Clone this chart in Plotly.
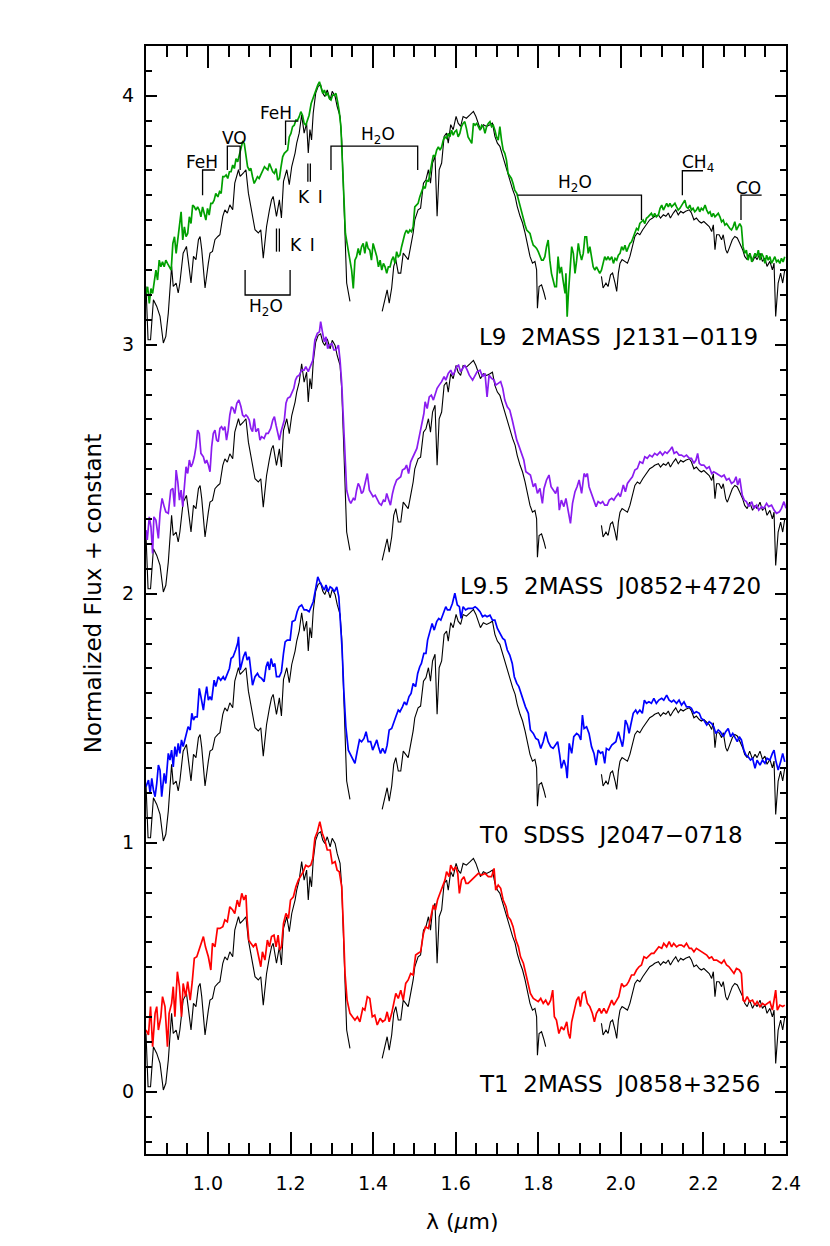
import plotly.graph_objects as go

# ---- black comparison standard (same template drawn under every object) ----
std_lam_1 = [0.850,0.855,0.861,0.868,0.876,0.884,0.892,0.898,0.904,0.912,0.916,0.923,0.928,0.932,0.940,0.948,0.952,0.959,0.965,0.971,
             0.977,0.981,0.985,0.993,1.001,1.005,1.011,1.017,1.024,1.029,1.036,1.041,1.047,1.053,1.060,1.065,1.074,1.078,1.086,1.092,
             1.098,1.106,1.114,1.122,1.128,1.134,1.142,1.149,1.154,1.158,1.162,1.166,1.173,1.178,1.183,1.191,1.197,1.203,1.211,1.215,
             1.221,1.227,1.233,1.239,1.243,1.247,1.251,1.255,1.261,1.267,1.273,1.278,1.283,1.289,1.296,1.301,1.308,1.313,1.320,1.324,
             1.328,1.332,1.336,1.344]
std_flux_1 = [0.234,0.020,0.020,0.181,0.154,0.114,0.007,0.034,0.127,0.315,0.234,0.248,0.208,0.248,0.368,0.395,0.342,0.248,0.355,0.342,
              0.422,0.435,0.382,0.228,0.328,0.368,0.375,0.422,0.435,0.442,0.516,0.542,0.529,0.562,0.542,0.649,0.703,0.676,0.690,0.703,
              0.609,0.542,0.462,0.449,0.462,0.348,0.475,0.542,0.582,0.596,0.556,0.516,0.582,0.509,0.656,0.703,0.643,0.716,0.770,0.810,
              0.850,0.924,0.850,0.890,0.770,0.864,0.823,0.931,1.011,1.038,1.044,1.011,0.997,1.024,0.984,1.018,0.997,0.957,0.917,0.823,
              0.636,0.435,0.248,0.174]
std_lam_2 = [1.422,1.429,1.434,1.439,1.445,1.450,1.455,1.461,1.467,1.473,1.479,1.485,1.491,1.497,1.501,1.509,1.515,1.522,1.528,1.534,
             1.539,1.544,1.550,1.555,1.560,1.566,1.572,1.578,1.582,1.588,1.594,1.601,1.606,1.612,1.618,1.626,1.635,1.643,1.649,1.655,
             1.660,1.667,1.675,1.683,1.689,1.695,1.701,1.707,1.714,1.719,1.725,1.731,1.738,1.744,1.749,1.756,1.762,1.768,1.774,1.780,
             1.786,1.792,1.796,1.798,1.802,1.808,1.814,1.818]
std_flux_2 = [0.134,0.181,0.221,0.167,0.228,0.315,0.342,0.288,0.288,0.368,0.355,0.342,0.395,0.449,0.502,0.542,0.549,0.649,0.663,0.703,
              0.649,0.730,0.757,0.516,0.703,0.730,0.837,0.850,0.810,0.884,0.864,0.917,0.890,0.877,0.917,0.910,0.924,0.937,0.917,0.884,
              0.864,0.884,0.877,0.884,0.890,0.837,0.810,0.797,0.757,0.730,0.690,0.663,0.623,0.596,0.556,0.516,0.489,0.449,0.395,0.355,
              0.328,0.335,0.301,0.147,0.234,0.241,0.208,0.181]
std_lam_3 = [1.953,1.957,1.964,1.969,1.975,1.980,1.986,1.990,1.994,1.998,2.003,2.010,2.016,2.022,2.028,2.034,2.040,2.046,2.053,2.058,
             2.064,2.070,2.077,2.082,2.091,2.096,2.103,2.109,2.115,2.120,2.127,2.133,2.139,2.145,2.151,2.157,2.166,2.171,2.177,2.183,
             2.190,2.195,2.201,2.208,2.214,2.220,2.224,2.228,2.232,2.238,2.244,2.248,2.254,2.258,2.264,2.270,2.276,2.282,2.288,2.295,
             2.300,2.306,2.312,2.319,2.325,2.330,2.337,2.343,2.349,2.354,2.361,2.367,2.371,2.375,2.381,2.387,2.392,2.397]
std_flux_3 = [0.275,0.228,0.248,0.234,0.281,0.288,0.248,0.214,0.288,0.328,0.342,0.335,0.328,0.355,0.395,0.435,0.449,0.442,0.462,0.475,
              0.489,0.502,0.509,0.516,0.522,0.509,0.522,0.516,0.529,0.509,0.529,0.542,0.522,0.536,0.529,0.536,0.542,0.529,0.502,0.509,
              0.495,0.489,0.495,0.482,0.475,0.455,0.482,0.382,0.442,0.442,0.422,0.442,0.382,0.368,0.395,0.422,0.435,0.429,0.408,0.382,
              0.355,0.342,0.368,0.335,0.355,0.342,0.368,0.335,0.348,0.315,0.335,0.301,0.328,0.114,0.248,0.288,0.248,0.301]

# ---- T1 2MASS J0858+3256 (red) ----
t1_lam = [0.850,0.856,0.861,0.866,0.872,0.876,0.880,0.886,0.890,0.896,0.902,0.906,0.912,0.916,0.920,0.926,0.931,0.936,0.940,0.946,
          0.951,0.957,0.962,0.967,0.973,0.977,0.982,0.989,0.994,1.001,1.007,1.011,1.017,1.023,1.029,1.036,1.041,1.047,1.053,1.060,
          1.065,1.071,1.076,1.082,1.087,1.092,1.095,1.099,1.104,1.110,1.116,1.122,1.128,1.132,1.138,1.144,1.149,1.154,1.160,1.165,
          1.170,1.174,1.178,1.183,1.189,1.195,1.200,1.207,1.213,1.219,1.224,1.231,1.237,1.243,1.249,1.254,1.259,1.265,1.271,1.277,
          1.283,1.289,1.296,1.301,1.308,1.313,1.318,1.324,1.328,1.332,1.337,1.344,1.350,1.356,1.362,1.368,1.375,1.380,1.386,1.392,
          1.398,1.404,1.410,1.417,1.423,1.429,1.434,1.439,1.445,1.450,1.455,1.461,1.467,1.473,1.479,1.485,1.491,1.497,1.503,1.509,
          1.515,1.522,1.527,1.534,1.539,1.546,1.551,1.556,1.562,1.568,1.574,1.578,1.584,1.588,1.594,1.600,1.605,1.609,1.614,1.620,
          1.625,1.630,
          1.639,1.647,1.655,1.663,1.671,1.679,1.687,1.693,1.697,1.703,1.709,1.715,1.722,1.727,1.733,1.739,1.746,1.752,1.757,1.764,
          1.770,1.776,1.781,1.788,1.794,1.800,1.806,1.812,1.818,1.824,1.830,1.835,1.839,1.844,1.850,1.856,1.862,1.869,1.873,1.877,
          1.881,1.886,1.893,1.898,1.902,1.907,1.913,1.919,1.925,1.931,1.936,1.941,1.948,1.953,1.959,1.965,1.971,1.978,1.983,1.990,
          1.995,2.002,2.007,2.014,2.019,2.026,2.032,2.038,2.044,2.050,2.056,2.062,2.069,2.074,2.080,2.086,2.092,2.099,2.104,2.111,
          2.117,2.123,2.128,2.135,2.141,2.147,2.153,2.159,2.166,2.171,2.177,2.183,2.190,2.195,2.201,2.208,2.214,2.220,2.225,2.232,
          2.238,2.244,2.250,2.256,2.262,2.268,2.274,2.280,2.287,2.292,2.296,2.300,2.306,2.312,2.319,2.325,2.330,2.337,2.343,2.349,
          2.354,2.361,2.367,2.371,2.375,2.379,2.385,2.392,2.397]
t1_flux = [0.248,0.228,0.342,0.181,0.315,0.342,0.248,0.301,0.382,0.342,0.181,0.315,0.355,0.422,0.301,0.482,0.422,0.301,0.435,0.382,
           0.442,0.368,0.442,0.536,0.542,0.562,0.596,0.623,0.582,0.542,0.489,0.596,0.582,0.656,0.656,0.663,0.690,0.683,0.743,0.730,
           0.716,0.770,0.743,0.797,0.770,0.790,0.690,0.609,0.596,0.582,0.596,0.542,0.502,0.562,0.529,0.609,0.582,0.623,0.629,0.582,
           0.629,0.569,0.582,0.676,0.716,0.696,0.770,0.783,0.823,0.850,0.864,0.884,0.910,0.904,0.910,0.937,1.018,1.044,1.085,1.038,
           1.011,0.971,0.971,0.917,0.924,0.890,0.884,0.823,0.663,0.475,0.368,0.315,0.301,0.288,0.301,0.281,0.335,0.328,0.382,0.375,
           0.301,0.308,0.268,0.295,0.281,0.288,0.321,0.281,0.315,0.355,0.395,0.375,0.408,0.368,0.435,0.449,0.475,0.469,0.549,0.556,
           0.562,0.636,0.663,0.656,0.690,0.750,0.730,0.770,0.797,0.823,0.850,0.884,0.864,0.910,0.890,0.904,0.877,0.797,0.850,0.864,
           0.837,0.837,
           0.850,0.864,0.877,0.870,0.877,0.864,0.864,0.897,0.810,0.830,0.817,0.770,0.743,0.703,0.690,0.663,0.609,0.582,0.542,0.516,
           0.475,0.435,0.395,0.375,0.368,0.362,0.375,0.355,0.368,0.348,0.368,0.408,0.301,0.288,0.234,0.261,0.248,0.281,0.234,0.214,
           0.281,0.315,0.368,0.382,0.342,0.395,0.402,0.355,0.342,0.315,0.281,0.315,0.335,0.315,0.335,0.315,0.342,0.368,0.348,0.368,
           0.382,0.435,0.422,0.429,0.442,0.469,0.469,0.489,0.502,0.509,0.542,0.536,0.549,0.556,0.556,0.569,0.582,0.576,0.596,0.582,
           0.603,0.582,0.596,0.582,0.589,0.589,0.582,0.596,0.576,0.576,0.562,0.576,0.569,0.562,0.556,0.549,0.536,0.542,0.529,0.529,
           0.522,0.516,0.529,0.509,0.502,0.489,0.475,0.495,0.489,0.475,0.368,0.362,0.382,0.362,0.368,0.348,0.362,0.342,0.355,0.348,
           0.355,0.362,0.328,0.368,0.408,0.328,0.348,0.342,0.348]

# ---- T0 SDSS J2047-0718 (blue) ----
t0_lam = [0.850,0.856,0.860,0.864,0.868,0.872,0.876,0.880,0.884,0.888,0.894,0.898,0.904,0.908,0.912,0.916,0.920,0.924,0.928,0.932,
          0.936,0.940,0.944,0.948,0.952,0.957,0.961,0.965,0.969,0.974,0.979,0.983,0.989,0.993,0.997,1.001,1.005,1.009,1.015,1.019,
          1.025,1.031,1.037,1.041,1.047,1.052,1.056,1.061,1.067,1.072,1.074,1.078,1.082,1.086,1.091,1.095,1.100,1.104,1.108,1.114,
          1.120,1.124,1.130,1.136,1.141,1.145,1.149,1.153,1.158,1.162,1.166,1.173,1.178,1.183,1.187,1.192,1.199,1.204,1.211,1.216,
          1.221,1.227,1.233,1.239,1.245,1.250,1.255,1.261,1.266,1.271,1.277,1.282,1.286,1.291,1.296,1.301,1.306,1.312,1.317,1.321,
          1.325,1.329,1.334,1.340,1.346,1.352,1.356,1.362,1.367,1.372,1.378,1.383,1.388,1.394,1.399,1.404,1.409,1.413,1.418,1.423,
          1.429,1.434,1.439,1.445,1.450,1.455,1.461,1.465,1.471,1.476,1.481,1.487,1.492,1.497,1.503,1.508,1.513,1.517,1.523,1.528,
          1.532,1.538,1.543,1.548,1.554,1.559,1.564,1.570,1.576,1.580,1.586,1.592,1.598,1.604,1.609,1.613,1.618,1.624,1.630,
          1.641,1.647,1.652,1.659,1.665,1.671,1.676,1.683,1.689,1.695,1.701,1.707,1.714,1.719,1.725,1.731,1.737,1.742,1.748,1.753,
          1.758,1.764,1.769,1.776,1.781,1.788,1.794,1.800,1.806,1.812,1.818,1.824,1.830,1.836,1.842,1.847,1.852,1.856,1.862,1.867,
          1.870,1.875,1.881,1.886,1.893,1.898,1.903,1.907,1.911,1.917,1.923,1.929,1.935,1.940,1.945,1.951,1.956,1.961,1.965,1.971,
          1.978,1.983,1.988,1.994,1.999,2.004,2.007,2.011,2.016,2.020,2.024,2.030,2.036,2.040,2.046,2.052,2.057,2.062,2.068,2.074,
          2.080,2.086,2.092,2.099,2.104,2.111,2.117,2.123,2.128,2.135,2.141,2.147,2.153,2.159,2.166,2.171,2.177,2.183,2.190,2.195,
          2.201,2.208,2.214,2.220,2.225,2.230,2.236,2.241,2.248,2.254,2.260,2.266,2.271,2.276,2.282,2.287,2.292,2.298,2.303,2.308,
          2.314,2.319,2.325,2.330,2.337,2.343,2.349,2.354,2.361,2.367,2.371,2.375,2.381,2.387,2.392,2.397]
t0_flux = [0.225,0.252,0.198,0.259,0.212,0.185,0.238,0.312,0.292,0.185,0.279,0.238,0.359,0.332,0.372,0.305,0.386,0.346,0.399,0.359,
           0.413,0.386,0.413,0.439,0.466,0.453,0.520,0.493,0.506,0.506,0.620,0.587,0.533,0.587,0.627,0.573,0.587,0.573,0.653,0.627,
           0.667,0.653,0.667,0.653,0.680,0.700,0.740,0.747,0.774,0.801,0.827,0.694,0.720,0.747,0.767,0.734,0.747,0.674,0.633,0.667,
           0.680,0.667,0.660,0.647,0.707,0.727,0.694,0.740,0.707,0.720,0.667,0.667,0.687,0.761,0.807,0.814,0.814,0.888,0.894,0.928,
           0.948,0.955,0.935,0.935,0.928,0.948,0.968,1.022,1.068,1.048,1.028,1.015,1.035,1.008,1.028,1.022,1.008,1.028,0.988,0.894,
           0.774,0.613,0.466,0.372,0.352,0.332,0.319,0.372,0.413,0.406,0.419,0.446,0.406,0.406,0.372,0.392,0.413,0.386,0.359,0.379,
           0.359,0.392,0.453,0.459,0.479,0.506,0.533,0.526,0.546,0.566,0.553,0.587,0.600,0.640,0.627,0.680,0.707,0.720,0.761,0.761,
           0.814,0.854,0.881,0.854,0.888,0.901,0.894,0.921,0.948,0.935,0.935,0.961,1.002,0.955,0.948,0.901,0.948,0.935,0.941,
           0.941,0.948,0.941,0.928,0.908,0.914,0.908,0.914,0.894,0.894,0.861,0.841,0.821,0.814,0.774,0.754,0.720,0.667,0.640,0.627,
           0.600,0.566,0.546,0.520,0.453,0.439,0.419,0.413,0.379,0.406,0.446,0.406,0.386,0.379,0.392,0.406,0.352,0.299,0.332,0.305,
           0.259,0.399,0.359,0.426,0.439,0.433,0.413,0.513,0.459,0.466,0.439,0.386,0.359,0.312,0.372,0.359,0.366,0.319,0.379,0.372,
           0.392,0.399,0.406,0.446,0.413,0.386,0.419,0.493,0.473,0.439,0.473,0.520,0.533,0.520,0.533,0.520,0.573,0.560,0.566,0.560,
           0.580,0.560,0.573,0.580,0.573,0.593,0.573,0.566,0.573,0.560,0.573,0.553,0.566,0.546,0.546,0.540,0.520,0.526,0.520,0.499,
           0.493,0.473,0.486,0.479,0.466,0.439,0.453,0.446,0.426,0.446,0.459,0.426,0.439,0.426,0.406,0.426,0.413,0.372,0.352,0.346,
           0.332,0.339,0.299,0.332,0.312,0.332,0.319,0.339,0.332,0.359,0.372,0.332,0.292,0.325,0.359,0.325]

# ---- L9.5 2MASS J0852+4720 (purple) ----
l95_lam = [0.850,0.853,0.858,0.862,0.866,0.869,0.874,0.880,0.884,0.889,0.894,0.898,0.904,0.910,0.915,0.919,0.923,0.927,0.931,0.935,
           0.939,0.943,0.947,0.951,0.955,0.959,0.963,0.967,0.971,0.975,0.979,0.983,0.989,0.993,0.997,1.001,1.005,1.009,1.013,1.017,
           1.021,1.025,1.029,1.033,1.037,1.041,1.045,1.049,1.053,1.057,1.061,1.065,1.070,1.075,1.080,1.084,1.088,1.092,1.096,1.100,
           1.104,1.108,1.112,1.116,1.122,1.126,1.130,1.136,1.141,1.146,1.152,1.157,1.161,1.165,1.169,1.173,1.177,1.181,1.185,1.189,
           1.193,1.199,1.203,1.208,1.212,1.216,1.221,1.227,1.233,1.237,1.243,1.249,1.254,1.259,1.265,1.270,1.273,1.278,1.282,1.286,
           1.290,1.294,1.300,1.305,1.310,1.316,1.320,1.324,1.328,1.332,1.336,1.342,1.346,1.352,1.356,1.360,1.364,1.368,1.372,1.376,
           1.381,1.386,1.391,1.395,1.400,1.405,1.410,1.415,1.420,1.425,1.429,1.433,1.438,1.442,1.447,1.451,1.457,1.462,1.467,1.471,
           1.477,1.481,1.486,1.491,1.496,1.501,1.506,1.510,1.514,1.518,1.523,1.526,1.531,1.536,1.541,1.546,1.551,1.555,1.560,1.566,
           1.572,1.576,1.582,1.588,1.593,1.598,1.602,1.607,1.612,1.617,1.622,1.628,1.633,
           1.641,1.647,1.652,1.659,1.665,1.671,1.676,1.681,1.687,1.693,1.697,1.703,1.709,1.714,1.719,1.725,1.731,1.737,1.742,1.748,
           1.754,1.760,1.765,1.770,1.776,1.781,1.788,1.793,1.798,1.804,1.810,1.814,1.820,1.826,1.831,1.836,1.842,1.847,1.851,1.856,
           1.862,1.867,1.873,1.878,1.883,1.889,1.894,1.899,1.905,1.911,1.915,1.919,1.923,1.929,1.935,1.940,1.945,1.951,1.956,1.961,
           1.967,1.972,1.978,1.983,1.988,1.994,1.999,2.006,2.011,2.016,2.022,2.028,2.034,2.040,2.046,2.053,2.058,2.064,2.070,2.076,
           2.082,2.088,2.095,2.101,2.107,2.112,2.119,2.124,2.129,2.135,2.141,2.147,2.153,2.159,2.166,2.171,2.177,2.182,2.186,2.190,
           2.195,2.201,2.208,2.214,2.220,2.225,2.232,2.238,2.244,2.250,2.256,2.262,2.268,2.274,2.279,2.283,2.288,2.294,2.299,2.304,
           2.310,2.317,2.322,2.329,2.334,2.341,2.346,2.353,2.358,2.365,2.371,2.377,2.384,2.389,2.395,2.400]
l95_flux = [0.256,0.216,0.309,0.269,0.162,0.309,0.296,0.222,0.323,0.383,0.350,0.329,0.323,0.416,0.423,0.350,0.497,0.450,0.376,0.416,
            0.350,0.443,0.510,0.483,0.537,0.510,0.524,0.550,0.590,0.657,0.644,0.564,0.550,0.524,0.537,0.517,0.490,0.590,0.644,0.657,
            0.617,0.611,0.664,0.671,0.657,0.671,0.617,0.657,0.718,0.751,0.744,0.724,0.765,0.778,0.751,0.718,0.711,0.718,0.711,0.698,
            0.664,0.651,0.704,0.651,0.664,0.617,0.631,0.624,0.644,0.644,0.664,0.698,0.711,0.677,0.651,0.617,0.651,0.677,0.698,0.765,
            0.785,0.791,0.805,0.825,0.858,0.872,0.878,0.898,0.898,0.912,0.892,0.918,0.938,1.019,1.046,1.052,1.093,1.046,1.012,1.032,
            0.985,0.999,1.005,0.979,0.979,0.999,0.939,0.845,0.711,0.550,0.416,0.376,0.363,0.383,0.376,0.416,0.443,0.430,0.403,0.410,
            0.443,0.483,0.416,0.403,0.390,0.396,0.376,0.363,0.356,0.376,0.370,0.403,0.376,0.356,0.403,0.430,0.457,0.463,0.470,0.497,
            0.503,0.517,0.483,0.530,0.550,0.570,0.584,0.617,0.651,0.677,0.724,0.771,0.744,0.791,0.798,0.778,0.811,0.825,0.838,0.852,
            0.872,0.858,0.885,0.898,0.878,0.892,0.912,0.918,0.892,0.905,0.918,0.898,0.878,
            0.858,0.878,0.892,0.898,0.872,0.885,0.791,0.878,0.865,0.858,0.838,0.845,0.852,0.825,0.778,0.751,0.738,0.698,0.657,0.617,
            0.590,0.564,0.537,0.490,0.483,0.477,0.430,0.443,0.403,0.423,0.363,0.423,0.457,0.477,0.430,0.416,0.403,0.430,0.336,0.376,
            0.350,0.383,0.336,0.283,0.363,0.410,0.430,0.457,0.403,0.483,0.470,0.483,0.430,0.403,0.376,0.350,0.370,0.363,0.370,0.356,
            0.356,0.376,0.383,0.376,0.390,0.403,0.390,0.437,0.410,0.443,0.457,0.470,0.497,0.503,0.530,0.524,0.550,0.544,0.557,0.550,
            0.564,0.557,0.570,0.557,0.570,0.564,0.577,0.590,0.564,0.570,0.557,0.557,0.550,0.557,0.544,0.544,0.524,0.537,0.564,0.524,
            0.517,0.517,0.503,0.510,0.483,0.490,0.483,0.477,0.470,0.477,0.457,0.463,0.443,0.450,0.470,0.437,0.463,0.396,0.376,0.370,
            0.350,0.370,0.343,0.356,0.336,0.350,0.343,0.363,0.350,0.356,0.336,0.323,0.329,0.343,0.370,0.343]

# ---- L9 2MASS J2131-0119 (green) ----
l9_lam = [0.850,0.854,0.858,0.862,0.866,0.870,0.874,0.878,0.882,0.886,0.890,0.894,0.898,0.902,0.906,0.911,0.915,0.919,0.923,0.927,
          0.931,0.935,0.939,0.943,0.947,0.951,0.955,0.959,0.963,0.967,0.971,0.975,0.979,0.983,0.987,0.991,0.995,0.999,1.003,1.007,
          1.011,1.015,1.019,1.024,1.028,1.032,1.036,1.040,1.044,1.048,1.052,1.056,1.060,1.064,1.068,1.072,1.076,1.080,1.084,1.088,
          1.092,1.096,1.100,1.104,1.108,1.112,1.116,1.120,1.124,1.128,1.132,1.137,1.141,1.145,1.149,1.153,1.157,1.161,1.165,1.169,
          1.173,1.177,1.181,1.185,1.189,1.193,1.197,1.201,1.205,1.209,1.213,1.217,1.221,1.225,1.229,1.233,1.237,1.241,1.245,1.250,
          1.254,1.258,1.262,1.266,1.270,1.274,1.278,1.282,1.286,1.290,1.294,1.298,1.302,1.306,1.310,1.314,1.318,1.322,1.325,1.329,
          1.333,1.337,1.342,1.348,1.352,1.356,1.360,1.364,1.368,1.372,1.376,1.380,1.384,1.388,1.392,1.396,1.400,1.404,1.409,1.413,
          1.417,1.421,1.425,1.429,1.433,1.437,1.441,1.445,1.449,1.453,1.457,1.461,1.465,1.469,1.473,1.477,1.481,1.485,1.489,1.493,
          1.497,1.501,1.505,1.509,1.513,1.517,1.522,1.526,1.530,1.534,1.538,1.542,1.546,1.550,1.554,1.558,1.562,1.566,1.570,1.574,
          1.578,1.582,1.586,1.590,1.594,1.598,1.602,1.606,1.610,1.614,1.618,1.622,1.626,1.630,
          1.639,1.643,1.647,1.651,1.655,1.659,1.663,1.667,1.671,1.675,1.679,1.683,1.687,1.691,1.695,1.699,1.703,1.707,1.711,1.715,
          1.719,1.723,1.727,1.731,1.735,1.739,1.743,1.748,1.752,1.756,1.760,1.764,1.768,1.772,1.776,1.780,1.784,1.788,1.792,1.796,
          1.800,1.804,1.808,1.812,1.816,1.820,1.824,1.828,1.832,1.836,1.840,1.844,1.848,1.852,1.856,1.860,1.865,1.867,1.870,1.873,
          1.877,1.881,1.885,1.889,1.893,1.897,1.901,1.905,1.909,1.913,1.917,1.921,1.925,1.929,1.933,1.937,1.941,1.945,1.949,1.953,
          1.957,1.961,1.965,1.969,1.973,1.978,1.982,1.986,1.990,1.994,1.998,2.002,2.006,2.010,2.014,2.018,2.022,2.026,2.030,2.034,
          2.038,2.042,2.046,2.050,2.054,2.058,2.062,2.066,2.070,2.074,2.078,2.082,2.086,2.091,2.095,2.099,2.103,2.107,2.111,2.115,
          2.119,2.123,2.127,2.131,2.135,2.139,2.143,2.147,2.151,2.155,2.159,2.163,2.167,2.171,2.175,2.179,2.183,2.187,2.191,2.195,
          2.199,2.204,2.208,2.212,2.216,2.220,2.224,2.228,2.232,2.236,2.240,2.244,2.248,2.252,2.256,2.260,2.264,2.268,2.272,2.276,
          2.280,2.284,2.288,2.292,2.296,2.300,2.304,2.308,2.313,2.317,2.321,2.325,2.329,2.333,2.337,2.341,2.345,2.349,2.353,2.357,
          2.361,2.365,2.369,2.373,2.377,2.381,2.385,2.389,2.393,2.397]
l9_flux = [0.206,0.233,0.166,0.226,0.206,0.246,0.300,0.260,0.340,0.313,0.333,0.313,0.340,0.327,0.313,0.300,0.407,0.434,0.367,0.421,
           0.461,0.534,0.421,0.474,0.434,0.447,0.514,0.487,0.561,0.554,0.541,0.554,0.541,0.514,0.554,0.528,0.501,0.548,0.521,0.568,
           0.568,0.581,0.608,0.594,0.615,0.608,0.675,0.675,0.682,0.668,0.695,0.695,0.722,0.708,0.748,0.735,0.762,0.789,0.815,0.809,
           0.762,0.715,0.702,0.708,0.675,0.648,0.661,0.675,0.668,0.682,0.695,0.715,0.708,0.702,0.728,0.708,0.695,0.688,0.708,0.661,
           0.668,0.715,0.755,0.769,0.775,0.782,0.835,0.849,0.876,0.882,0.902,0.902,0.916,0.936,0.922,0.889,0.882,0.902,0.922,0.969,
           0.989,1.010,1.030,1.043,1.056,1.036,1.010,1.023,1.003,1.010,0.989,0.983,1.003,1.003,1.010,0.976,0.936,0.876,0.742,0.581,
           0.447,0.407,0.354,0.300,0.226,0.340,0.354,0.387,0.360,0.394,0.407,0.367,0.414,0.387,0.380,0.340,0.407,0.387,0.354,0.313,
           0.340,0.300,0.327,0.313,0.287,0.313,0.313,0.340,0.354,0.327,0.374,0.354,0.360,0.394,0.421,0.447,0.461,0.447,0.461,0.454,
           0.474,0.554,0.561,0.568,0.594,0.615,0.635,0.628,0.661,0.655,0.702,0.728,0.762,0.755,0.782,0.795,0.782,0.795,0.822,0.835,
           0.829,0.849,0.835,0.862,0.842,0.856,0.862,0.835,0.849,0.876,0.889,0.896,0.869,0.835,
           0.809,0.889,0.882,0.889,0.876,0.862,0.882,0.876,0.849,0.876,0.889,0.896,0.876,0.882,0.862,0.835,0.822,0.876,0.822,0.782,
           0.769,0.742,0.688,0.675,0.668,0.648,0.621,0.608,0.581,0.561,0.528,0.501,0.481,0.461,0.454,0.447,0.421,0.400,0.394,0.387,
           0.374,0.354,0.340,0.340,0.354,0.394,0.421,0.340,0.287,0.260,0.233,0.233,0.354,0.287,0.313,0.260,0.206,0.287,0.113,0.206,
           0.287,0.394,0.367,0.287,0.340,0.407,0.367,0.340,0.367,0.434,0.434,0.367,0.394,0.354,0.313,0.300,0.313,0.300,0.287,0.300,
           0.327,0.354,0.340,0.354,0.340,0.354,0.327,0.347,0.340,0.360,0.367,0.394,0.380,0.400,0.374,0.394,0.407,0.414,0.434,0.447,
           0.467,0.461,0.487,0.494,0.501,0.487,0.508,0.514,0.521,0.528,0.514,0.528,0.514,0.521,0.548,0.561,0.541,0.554,0.568,0.554,
           0.568,0.554,0.561,0.568,0.554,0.541,0.548,0.561,0.568,0.581,0.554,0.548,0.561,0.541,0.548,0.534,0.541,0.554,0.534,0.548,
           0.541,0.561,0.541,0.528,0.534,0.514,0.528,0.514,0.521,0.528,0.514,0.494,0.501,0.481,0.487,0.474,0.467,0.461,0.474,0.494,
           0.461,0.474,0.487,0.474,0.394,0.367,0.380,0.340,0.367,0.333,0.354,0.367,0.354,0.380,0.340,0.367,0.354,0.327,0.360,0.340,
           0.354,0.327,0.340,0.354,0.333,0.340,0.327,0.347,0.333,0.354]

# objects, bottom to top
names = ["T1  2MASS  J0858+3256", "T0  SDSS  J2047\u22120718",
         "L9.5  2MASS  J0852+4720", "L9  2MASS  J2131\u22120119"]
offsets = [0, 1, 2, 3]
colors = ["#ff0000", "#0000ff", "#8a1cf0", "#00a000"]
obj_lam = [t1_lam, t0_lam, l95_lam, l9_lam]
obj_flux = [t1_flux, t0_flux, l95_flux, l9_flux]
label_x = [1.651, 1.651, 1.605, 1.651]

std_lam = std_lam_1 + [None] + std_lam_2 + [None] + std_lam_3
std_flux = std_flux_1 + [None] + std_flux_2 + [None] + std_flux_3

FONT = "DejaVu Sans"
fig = go.Figure()

for off in offsets:
    fig.add_trace(go.Scatter(x=std_lam, y=[None if f is None else f + off for f in std_flux],
                             mode="lines", line=dict(color="black", width=1.1),
                             connectgaps=False, hoverinfo="skip"))

for lam, flux, off, col, name, lx in zip(obj_lam, obj_flux, offsets, colors, names, label_x):
    fig.add_trace(go.Scatter(x=lam, y=[f + off for f in flux], mode="lines",
                             line=dict(color=col, width=1.7), name=name))
    fig.add_annotation(x=lx, y=off + 0.03, text=name, showarrow=False, xanchor="left",
                       yanchor="middle", font=dict(family=FONT, size=23, color="black"))

# feature markers in the top panel
brackets = [
    "M 0.987,3.601 L 0.987,3.702 L 1.017,3.702",
    "M 1.047,3.702 L 1.047,3.798 L 1.078,3.798 L 1.078,3.702",
    "M 1.188,3.802 L 1.188,3.898 L 1.219,3.898",
    "M 1.242,3.655 L 1.242,3.728", "M 1.248,3.655 L 1.248,3.728",
    "M 1.166,3.374 L 1.166,3.467", "M 1.173,3.374 L 1.173,3.467",
    "M 1.090,3.300 L 1.090,3.200 L 1.199,3.200 L 1.199,3.300",
    "M 1.298,3.702 L 1.298,3.798 L 1.508,3.798 L 1.508,3.702",
    "M 1.750,3.601 L 2.050,3.601 L 2.050,3.501",
    "M 2.149,3.601 L 2.149,3.699 L 2.199,3.699",
    "M 2.291,3.501 L 2.291,3.601 L 2.341,3.601",
]
for p in brackets:
    fig.add_shape(type="path", path=p, xref="x", yref="y", line=dict(color="black", width=1.3))

feature_text = [
    ("FeH", 0.986, 3.735), ("VO", 1.064, 3.829), ("FeH", 1.166, 3.932),
    ("K\u2002I", 1.249, 3.595), ("K\u2002I", 1.229, 3.400),
    ("H<sub>2</sub>O", 1.141, 3.150), ("H<sub>2</sub>O", 1.411, 3.842),
    ("H<sub>2</sub>O", 1.889, 3.648), ("CH<sub>4</sub>", 2.187, 3.728), ("CO", 2.308, 3.628),
]
for t, x, y in feature_text:
    fig.add_annotation(x=x, y=y, text=t, showarrow=False, xanchor="center", yanchor="middle",
                       font=dict(family=FONT, size=17, color="black"))

# axis titles
fig.add_annotation(xref="paper", yref="paper", x=-0.083, y=0.506, text="Normalized Flux + constant",
                   textangle=-90, showarrow=False, xanchor="center", yanchor="middle",
                   font=dict(family=FONT, size=23, color="black"))
fig.add_annotation(xref="paper", yref="paper", x=0.495, y=-0.0605, text="\u03bb (<i>\u03bc</i>m)",
                   showarrow=False, xanchor="center", yanchor="middle",
                   font=dict(family=FONT, size=22, color="black"))

# page body adds an 8 px offset, so the figure is 8 px smaller and margins shifted
fig.update_layout(
    width=822, height=1238,
    margin=dict(l=138, r=44, t=38, b=92),
    paper_bgcolor="white", plot_bgcolor="white",
    showlegend=False,
    font=dict(family=FONT, size=19, color="black"),
)
fig.update_xaxes(range=[0.85, 2.4], showgrid=False, zeroline=False,
                 showline=True, linecolor="black", linewidth=2, mirror="ticks",
                 ticks="inside", ticklen=22, tickwidth=1.6, tickcolor="black",
                 tick0=0, dtick=0.2, tickformat=".1f", ticklabelstandoff=11,
                 minor=dict(ticks="inside", ticklen=11, tickwidth=1.6, tickcolor="black", dtick=0.05))
fig.update_yaxes(range=[-0.25, 4.2], showgrid=False, zeroline=False,
                 showline=True, linecolor="black", linewidth=2, mirror="ticks",
                 ticks="inside", ticklen=11, tickwidth=1.6, tickcolor="black",
                 tick0=0, dtick=1, ticklabelstandoff=6,
                 minor=dict(ticks="inside", ticklen=6, tickwidth=1.6, tickcolor="black", dtick=0.1))

fig.write_html("out.html")
